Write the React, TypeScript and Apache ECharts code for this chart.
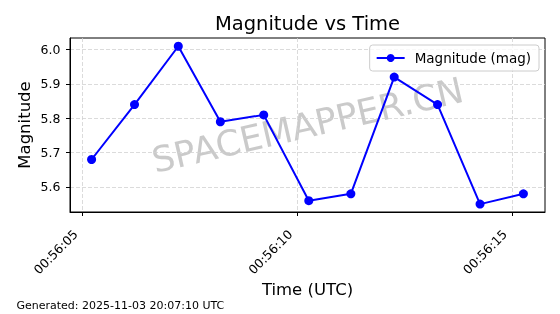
import React, { useEffect, useRef } from "react";
import * as echarts from "echarts";

// seconds after 00:56:00 UTC
const timeSeconds = [5.21, 6.21, 7.23, 8.21, 9.22, 10.27, 11.25, 12.26, 13.27, 14.26, 15.27];
const magnitudes = [5.68, 5.84, 6.01, 5.79, 5.81, 5.56, 5.58, 5.92, 5.84, 5.55, 5.58];
const xTickSeconds = [5, 10, 15];
const yTicks = [5.6, 5.7, 5.8, 5.9, 6.0];
const timePrefix = "00:56:";
const seriesName = "Magnitude (mag)";
const titleText = "Magnitude vs Time";
const xName = "Time (UTC)";
const yName = "Magnitude";
const footerText = "Generated: 2025-11-03 20:07:10 UTC";
const watermarkText = "SPACEMAPPER.CN";

const FONT = "DejaVu Sans";

export default function App() {
  const ref = useRef<HTMLDivElement>(null);
  useEffect(() => {
    document.body.style.margin = "0";
    const chart = echarts.init(ref.current!, null, { renderer: "svg" });
    const data = timeSeconds.map((t, i) => [t, magnitudes[i]]);
    const gridLeft = 70, gridRight = 15, gridTop = 38, gridBottom = 102;
    const axCx = (gridLeft + 560 - gridRight) / 2;
    const axCy = (gridTop + 314 - gridBottom) / 2;
    chart.setOption({
      animation: false,
      grid: {
        left: gridLeft,
        right: gridRight,
        top: gridTop,
        bottom: gridBottom,
        show: true,
        borderColor: "#000",
        borderWidth: 1,
        backgroundColor: "transparent",
      },
      xAxis: {
        type: "value",
        min: 4.707,
        max: 15.773,
        minInterval: 5,
        maxInterval: 5,
        axisLine: { show: true, lineStyle: { color: "#000", width: 1 } },
        axisTick: { show: true, length: 4, customValues: xTickSeconds, lineStyle: { color: "#000" } },
        axisLabel: {
          customValues: xTickSeconds,
          rotate: 45,
          margin: 13,
          padding: [0, 10, 0, 0],
          color: "#000",
          fontFamily: FONT,
          fontSize: 12.5,
          formatter: (v: number) => timePrefix + String(Math.round(v)).padStart(2, "0"),
        },
        splitLine: { show: true, lineStyle: { color: "#d2d2d2", type: [4, 2], width: 0.8 } },
      },
      yAxis: {
        type: "value",
        min: 5.527,
        max: 6.034,
        minInterval: 0.1,
        maxInterval: 0.1,
        axisLine: { show: true, lineStyle: { color: "#000", width: 1 } },
        axisTick: { show: true, length: 4, customValues: yTicks, lineStyle: { color: "#000" } },
        axisLabel: {
          customValues: yTicks,
          margin: 9.5,
          color: "#000",
          fontFamily: FONT,
          fontSize: 12.5,
          formatter: (v: number) => v.toFixed(1),
        },
        splitLine: { show: true, lineStyle: { color: "#d2d2d2", type: [4, 2], width: 0.8 } },
      },
      legend: {
        data: [seriesName],
        right: 21,
        top: 45,
        padding: [6, 8, 6, 6],
        itemWidth: 28,
        itemHeight: 10,
        borderColor: "#cccccc",
        borderWidth: 1,
        borderRadius: 3,
        backgroundColor: "rgba(255,255,255,0.8)",
        textStyle: { fontFamily: FONT, fontSize: 13.5, color: "#000", padding: [0, 0, 0, 5] },
      },
      graphic: [
        {
          type: "text",
          x: axCx,
          y: axCy,
          rotation: (13 * Math.PI) / 180,
          z: -10,
          style: {
            text: watermarkText,
            fontFamily: FONT,
            fontSize: 35.5,
            fill: "rgba(128,128,128,0.42)",
            align: "center",
            verticalAlign: "middle",
          },
        },
        {
          type: "text",
          x: axCx,
          y: 23,
          style: {
            text: titleText,
            fontFamily: FONT,
            fontSize: 19.5,
            fill: "#000",
            align: "center",
            verticalAlign: "middle",
          },
        },
        {
          type: "text",
          x: axCx,
          y: 289,
          style: {
            text: xName,
            fontFamily: FONT,
            fontSize: 16.5,
            fill: "#000",
            align: "center",
            verticalAlign: "middle",
          },
        },
        {
          type: "text",
          x: 24.5,
          y: axCy,
          rotation: Math.PI / 2,
          style: {
            text: yName,
            fontFamily: FONT,
            fontSize: 16.5,
            fill: "#000",
            align: "center",
            verticalAlign: "middle",
          },
        },
        {
          type: "text",
          x: 16.5,
          y: 305,
          style: {
            text: footerText,
            fontFamily: FONT,
            fontSize: 11,
            fill: "#000",
            align: "left",
            verticalAlign: "middle",
          },
        },
      ],
      series: [
        {
          name: seriesName,
          type: "line",
          data,
          symbol: "circle",
          symbolSize: 9,
          showSymbol: true,
          z: 5,
          itemStyle: { color: "#0000ff" },
          lineStyle: { color: "#0000ff", width: 2 },
        },
      ],
    });
    return () => chart.dispose();
  }, []);
  return (
    <div
      ref={ref}
      style={{ position: "fixed", left: 0, top: 0, width: 560, height: 314 }}
    />
  );
}
